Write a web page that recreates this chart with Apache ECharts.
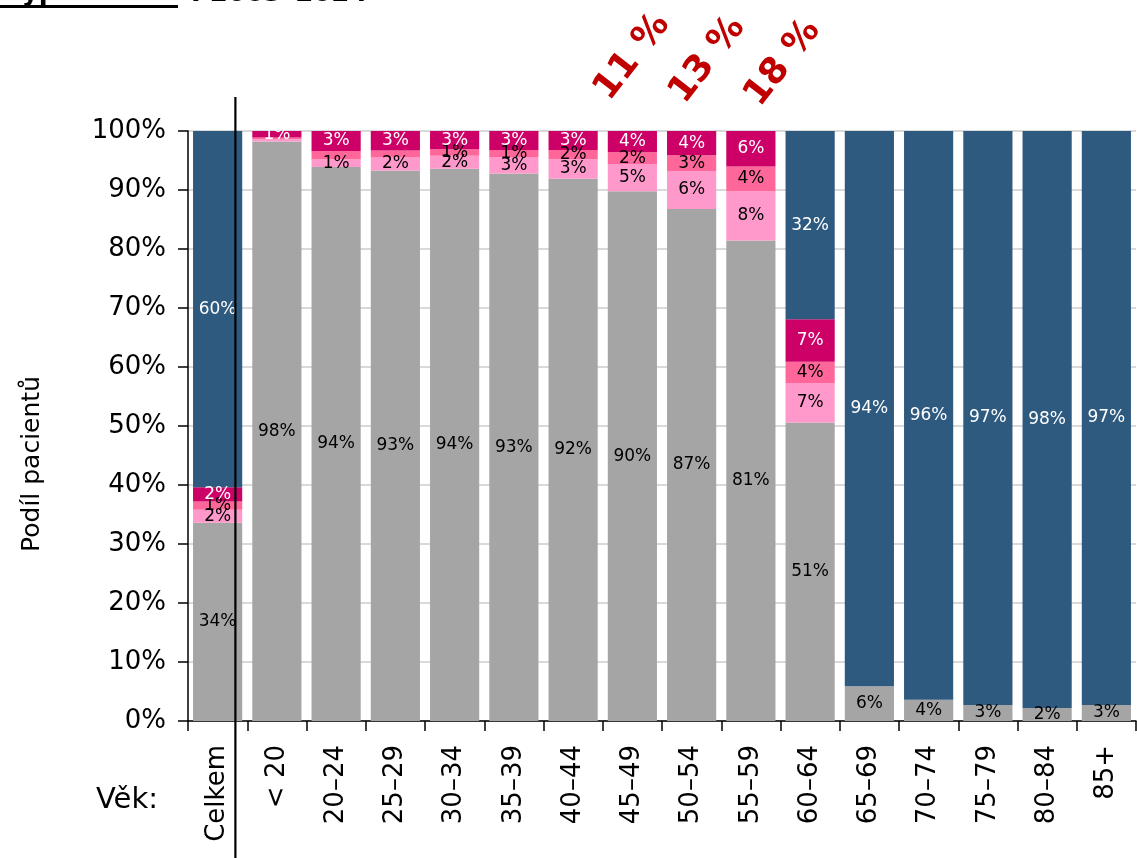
<!DOCTYPE html>
<html><head><meta charset="utf-8">
<script src="https://cdn.jsdelivr.net/npm/echarts@6/dist/echarts.min.js"></script>
<style>html,body{margin:0;padding:0;background:#fff}#c{width:1137px;height:858px}</style>
</head><body><div id="c"></div>
<script>
const categories = ['Celkem','< 20','20–24','25–29','30–34','35–39','40–44','45–49','50–54','55–59','60–64','65–69','70–74','75–79','80–84','85+'];
const grayValues      = [33.6, 98.2, 93.9, 93.3, 93.6, 92.8, 91.9, 89.8, 86.8, 81.45, 50.6, 5.9, 3.6, 2.7, 2.2, 2.7];
const lightPinkValues = [2.2, 0.4, 1.3, 2.2, 2.2, 2.8, 3.3, 4.6, 6.4, 8.35, 6.7, 0, 0, 0, 0, 0];
const pinkValues      = [1.4, 0.3, 1.4, 1.2, 1.1, 1.2, 1.6, 2.0, 2.7, 4.2, 3.6, 0, 0, 0, 0, 0];
const magentaValues   = [2.4, 1.1, 3.4, 3.3, 3.1, 3.2, 3.2, 3.6, 4.1, 6.0, 7.2, 0, 0, 0, 0, 0];
const blueValues      = [60.4, 0, 0, 0, 0, 0, 0, 0, 0, 0, 31.9, 94.1, 96.4, 97.3, 97.8, 97.3];
const pinkHiddenLabels = ['20–24', '25–29'];
const yTickValues = [0,10,20,30,40,50,60,70,80,90,100];
const annotationTexts = ['11 %', '13 %', '18 %'];
const annotationCategories = ['45–49', '50–54', '55–59'];
const yAxisTitle = 'Podíl pacientů';
const xAxisTitle = 'Věk:';
const titleBold = 'Hypertenze:';
const titleRest = ' I 2003–2024';

const FONT = 'DejaVu Sans';
function mkData(values, hidden) {
  return values.map((v, i) => {
    const d = { value: v };
    if (hidden && hidden.indexOf(categories[i]) >= 0) d.label = { show: false };
    return d;
  });
}
function labelCfg(color) {
  return {
    show: true, position: 'inside', color: color, fontFamily: FONT, fontSize: 17,
    formatter: p => { const r = Math.round(p.value); return r > 0 ? r + '%' : ''; }
  };
}
function bar(name, values, color, labelColor, hidden) {
  return {
    name, type: 'bar', stack: 'all', data: mkData(values, hidden),
    itemStyle: { color }, label: labelCfg(labelColor),
    barCategoryGap: '17%', emphasis: { disabled: true }
  };
}
const chart = echarts.init(document.getElementById('c'), null, { renderer: 'canvas' });
chart.setOption({
  animation: false,
  backgroundColor: '#ffffff',
  grid: { left: 188, right: 1, top: 131, bottom: 137, containLabel: false },
  xAxis: {
    type: 'category', data: categories,
    axisLine: { lineStyle: { color: '#000', width: 1.5 } },
    axisTick: { show: true, length: 10, lineStyle: { color: '#000', width: 1.5 } },
    axisLabel: { rotate: 90, margin: 24, color: '#000', fontFamily: FONT, fontSize: 26, interval: 0 }
  },
  yAxis: {
    type: 'value', min: 0, max: 100, interval: 10,
    axisLine: { show: true, lineStyle: { color: '#000', width: 1.5 } },
    axisTick: { show: true, length: 10, lineStyle: { color: '#000', width: 1.5 } },
    axisLabel: { color: '#000', fontFamily: FONT, fontSize: 26, margin: 22,
      formatter: v => yTickValues.indexOf(v) >= 0 ? v + '%' : '' },
    splitLine: { lineStyle: { color: '#d9d9d9', width: 2 } }
  },
  series: [
    bar('gray', grayValues, '#a5a5a5', '#000'),
    bar('lightPink', lightPinkValues, '#ff99cc', '#000'),
    bar('pink', pinkValues, '#ff6699', '#000', pinkHiddenLabels),
    bar('magenta', magentaValues, '#cc0066', '#fff'),
    bar('blue', blueValues, '#2e5a80', '#fff')
  ]
});

function place() {
  const band = chart.convertToPixel({ xAxisIndex: 0 }, categories[1]) - chart.convertToPixel({ xAxisIndex: 0 }, categories[0]);
  const sepX = chart.convertToPixel({ xAxisIndex: 0 }, categories[0]) + 0.3 * band;
  const elements = [
    { type: 'line', shape: { x1: sepX, y1: 97, x2: sepX, y2: 858 }, style: { stroke: '#000', lineWidth: 2.2 }, z: 100 },
    { type: 'text', x: 127, y: 800, style: { text: xAxisTitle, fill: '#000', font: '29px "DejaVu Sans"', textAlign: 'center', textVerticalAlign: 'middle' } },
    { type: 'text', x: 32, y: 464, rotation: Math.PI / 2, style: { text: yAxisTitle, fill: '#000', font: '25px "DejaVu Sans"', textAlign: 'center', textVerticalAlign: 'middle' } },
    { type: 'text', x: 0, y: 6, style: { text: titleBold, fill: '#000', font: 'bold 26px "DejaVu Sans"', textAlign: 'left', textVerticalAlign: 'bottom' } },
    { type: 'rect', shape: { x: 0, y: 5, width: 178, height: 3 }, style: { fill: '#000' } },
    { type: 'text', x: 182, y: 7, style: { text: titleRest, fill: '#000', font: 'bold 26px "DejaVu Sans"', textAlign: 'left', textVerticalAlign: 'bottom' } }
  ];
  annotationTexts.forEach((t, i) => {
    const cx = chart.convertToPixel({ xAxisIndex: 0 }, annotationCategories[i]) + i * 16;
    elements.push({ type: 'text', x: cx, y: 57 + i * 3, rotation: 52 * Math.PI / 180,
      style: { text: t, fill: '#c00000', font: 'bold 36px "DejaVu Sans"', textAlign: 'center', textVerticalAlign: 'middle' } });
  });
  chart.setOption({ graphic: { elements } });
}
place();
</script>
</body></html>
